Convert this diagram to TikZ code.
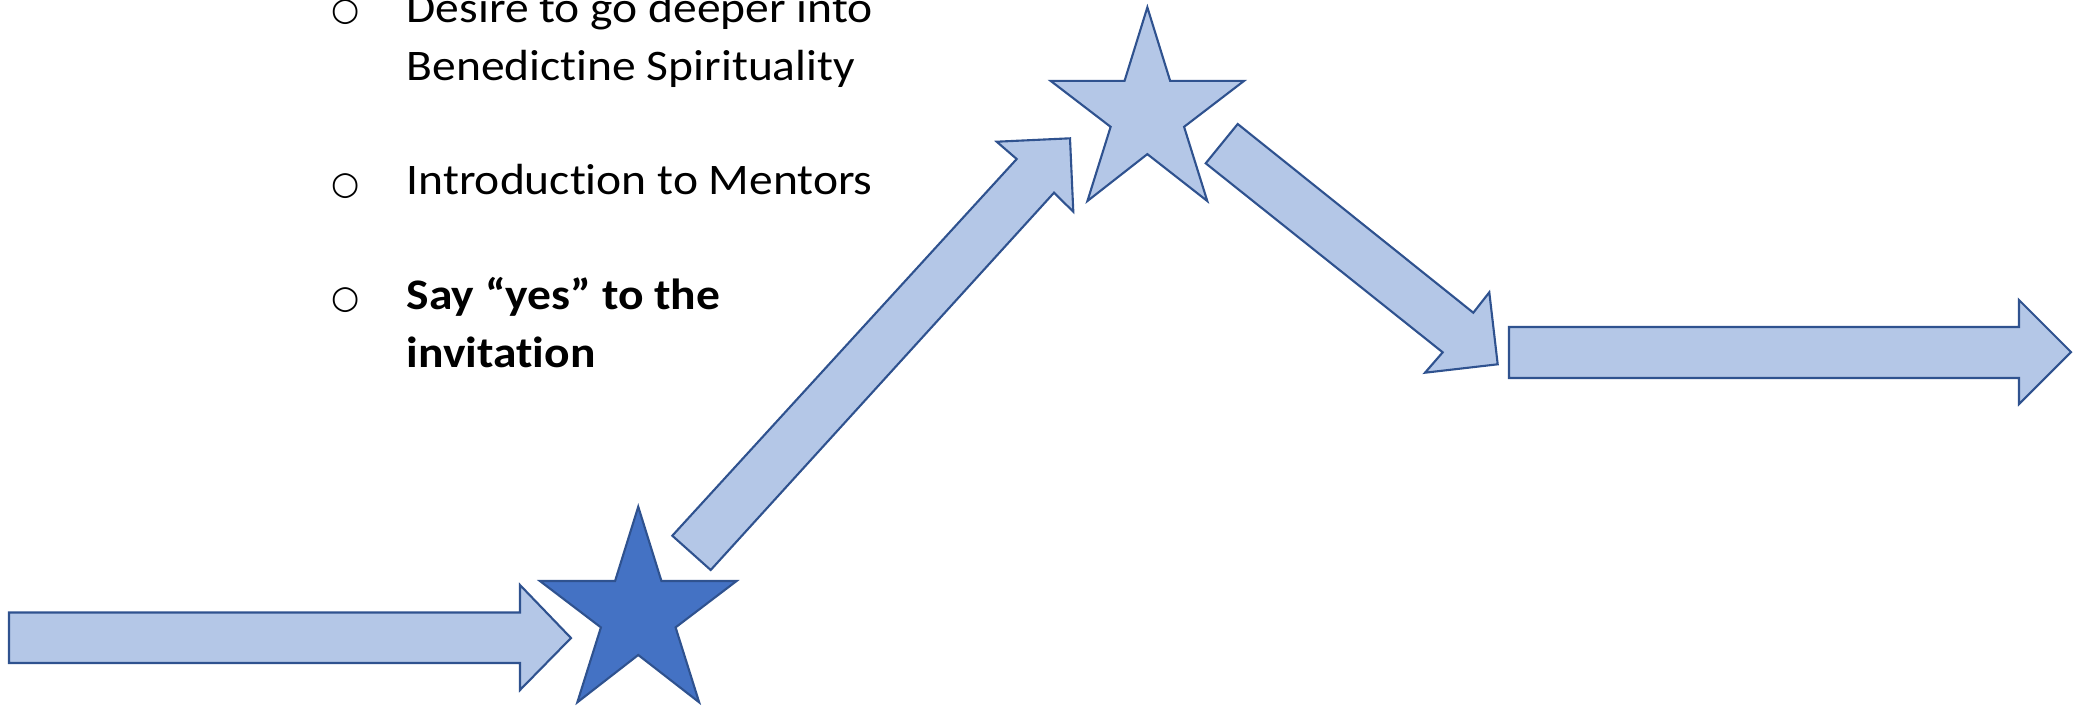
\documentclass[tikz,border=0pt]{standalone}
\usepackage{fontspec}
\setmainfont{Carlito}[Ligatures=NoCommon]
\newfontfamily\bulletfont{DejaVu Sans}
\definecolor{lightfill}{HTML}{B4C7E7}
\definecolor{darkfill}{HTML}{4472C4}
\definecolor{edgeblue}{HTML}{2F528F}
\newcommand\starpoly[4]{%
  ({#1+0.5*#3},{#2}) -- ({#1+0.618*#3},{#2+0.38*#4}) -- ({#1+#3},{#2+0.38*#4}) --
  ({#1+0.69*#3},{#2+0.617*#4}) -- ({#1+0.81*#3},{#2+#4}) -- ({#1+0.5*#3},{#2+0.758*#4}) --
  ({#1+0.19*#3},{#2+#4}) -- ({#1+0.31*#3},{#2+0.617*#4}) -- ({#1},{#2+0.38*#4}) --
  ({#1+0.382*#3},{#2+0.38*#4}) -- cycle}
\newcommand\widetext[1]{\scalebox{1.09}[1]{#1}}
\begin{document}
\begin{tikzpicture}[x=0.01cm,y=-0.01cm,
  shapeline/.style={draw=edgeblue,line width=0.6pt,line join=miter},
  lightshape/.style={shapeline,fill=lightfill},
  darkshape/.style={shapeline,fill=darkfill},
  linetext/.style={anchor=base west,inner sep=0pt,font=\fontsize{12.4pt}{16.5pt}\selectfont},
  boldtext/.style={linetext,font=\fontsize{12.4pt}{16.5pt}\selectfont\bfseries},
  bulletmark/.style={anchor=center,inner sep=0pt,font=\fontsize{9.2pt}{11pt}\selectfont\bulletfont}]
\useasboundingbox (0,0) rectangle (2075,705);
% arrows
\path[lightshape] (9,612.5) -- (520,612.5) -- (520,585) -- (571,638) -- (520,690) -- (520,663) -- (9,663) -- cycle;
\path[lightshape] (672.3,535.7) -- (1016.7,159) -- (996.7,141.7) -- (1070,138.3) -- (1073.3,211.7) -- (1054,192.7) -- (710.7,570) -- cycle;
\path[lightshape] (1237.7,124) -- (1473.3,312.7) -- (1489.3,292.3) -- (1497.7,364.3) -- (1425,372.7) -- (1442.7,352.3) -- (1205.7,163.3) -- cycle;
\path[lightshape] (1509,327) -- (2019,327) -- (2019,300) -- (2071,352) -- (2019,404) -- (2019,378) -- (1509,378) -- cycle;
% stars
\path[darkshape] \starpoly{540}{506.7}{196.5}{195.6};
\path[lightshape] \starpoly{1050.7}{7.3}{193.3}{193.7};
% text
\node[bulletmark] (b1) at (346,12.5) {○};
\node[linetext] (t1a) at (406,22.7) {\widetext{Desire to go deeper into}};
\node[linetext] (t1b) at (406,80.5) {\widetext{Benedictine Spirituality}};
\node[bulletmark] (b2) at (346,186) {○};
\node[linetext] (t2) at (406,194.3) {\widetext{Introduction to Mentors}};
\node[bulletmark] (b3) at (346,300.5) {○};
\node[boldtext] (t3a) at (406,309) {\widetext{Say “yes” to the}};
\node[boldtext] (t3b) at (406,367.5) {\widetext{invitation}};
\end{tikzpicture}
\end{document}
